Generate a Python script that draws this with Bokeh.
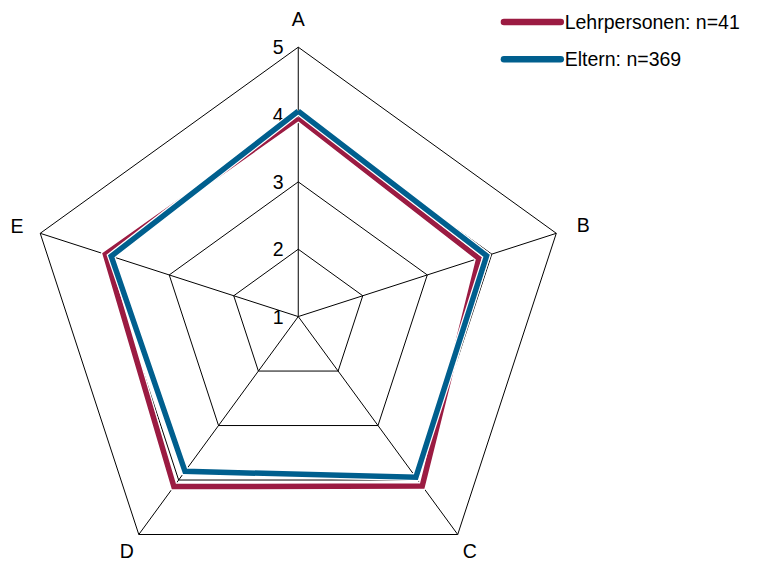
import numpy as np
from bokeh.plotting import figure
from bokeh.models import Range1d
from bokeh.core.properties import value
from bokeh.embed import file_html
from bokeh.resources import INLINE

categories = ["A", "B", "C", "D", "E"]
series_names = ["Lehrpersonen: n=41", "Eltern: n=369"]
lehrpersonen = [3.95, 3.80, 4.11, 4.12, 3.99]
eltern = [4.05, 3.92, 3.95, 3.84, 3.90]
tick_labels = ["1", "2", "3", "4", "5"]
tick_values = [1, 2, 3, 4, 5]
colors = ["#9B1B42", "#005F8E"]

FONT = value("Liberation Sans")
FS = "19.5px"
cx, cy = 304.0, 325.0
rmax = 277.0
vmin, vmax = 1.0, 5.0
angles = np.deg2rad(90 - 72 * np.arange(len(categories)))
label_gap = np.array([29, 29, 21, 21, 25])


def to_xy(vals, r_extra=0.0):
    v = np.asarray(vals, dtype=float)
    r = (v - vmin) / (vmax - vmin) * rmax + r_extra
    return cx + r * np.cos(angles), cy - r * np.sin(angles)


p = figure(width=763, height=566, output_backend="svg", toolbar_location=None,
           x_range=Range1d(0, 779), y_range=Range1d(582, 0), min_border=0)
p.axis.visible = False
p.grid.visible = False
p.outline_line_color = None
p.background_fill_color = "white"

# grid pentagons
for t in tick_values[1:]:
    xs, ys = to_xy([t] * len(categories))
    p.line(list(xs) + [xs[0]], list(ys) + [ys[0]], line_color="black", line_width=1)
# spokes
ox, oy = to_xy([vmax] * len(categories))
p.segment(x0=[cx] * len(categories), y0=[cy] * len(categories), x1=ox, y1=oy,
          line_color="black", line_width=1)

# tick labels
p.text(x=[cx - 15] * len(tick_values),
       y=[cy - (t - vmin) / (vmax - vmin) * rmax for t in tick_values],
       text=tick_labels, text_font=FONT, text_font_size=FS,
       text_align="right", text_baseline="middle", text_color="black")

# category labels
lx, ly = to_xy([vmax] * len(categories), r_extra=label_gap)
p.text(x=lx, y=ly, text=categories, text_font=FONT, text_font_size=FS,
       text_align="center", text_baseline="middle", text_color="black")

# series
for vals, col in zip([lehrpersonen, eltern], colors):
    xs, ys = to_xy(vals)
    xs = list(xs) + [xs[0]]
    ys = list(ys) + [ys[0]]
    p.line(xs, ys, line_color="white", line_width=8, line_join="miter")
    p.line(xs, ys, line_color=col, line_width=5.5, line_join="miter")

# legend
for i, (name, col) in enumerate(zip(series_names, colors)):
    yy = 22 + i * 38.5
    p.line([514, 572], [yy, yy], line_color=col, line_width=6.5, line_cap="round")
    p.text(x=[576], y=[yy], text=[name], text_font=FONT, text_font_size=FS,
           text_align="left", text_baseline="middle", text_color="black")

open("out.html", "w").write(file_html(p, INLINE))
